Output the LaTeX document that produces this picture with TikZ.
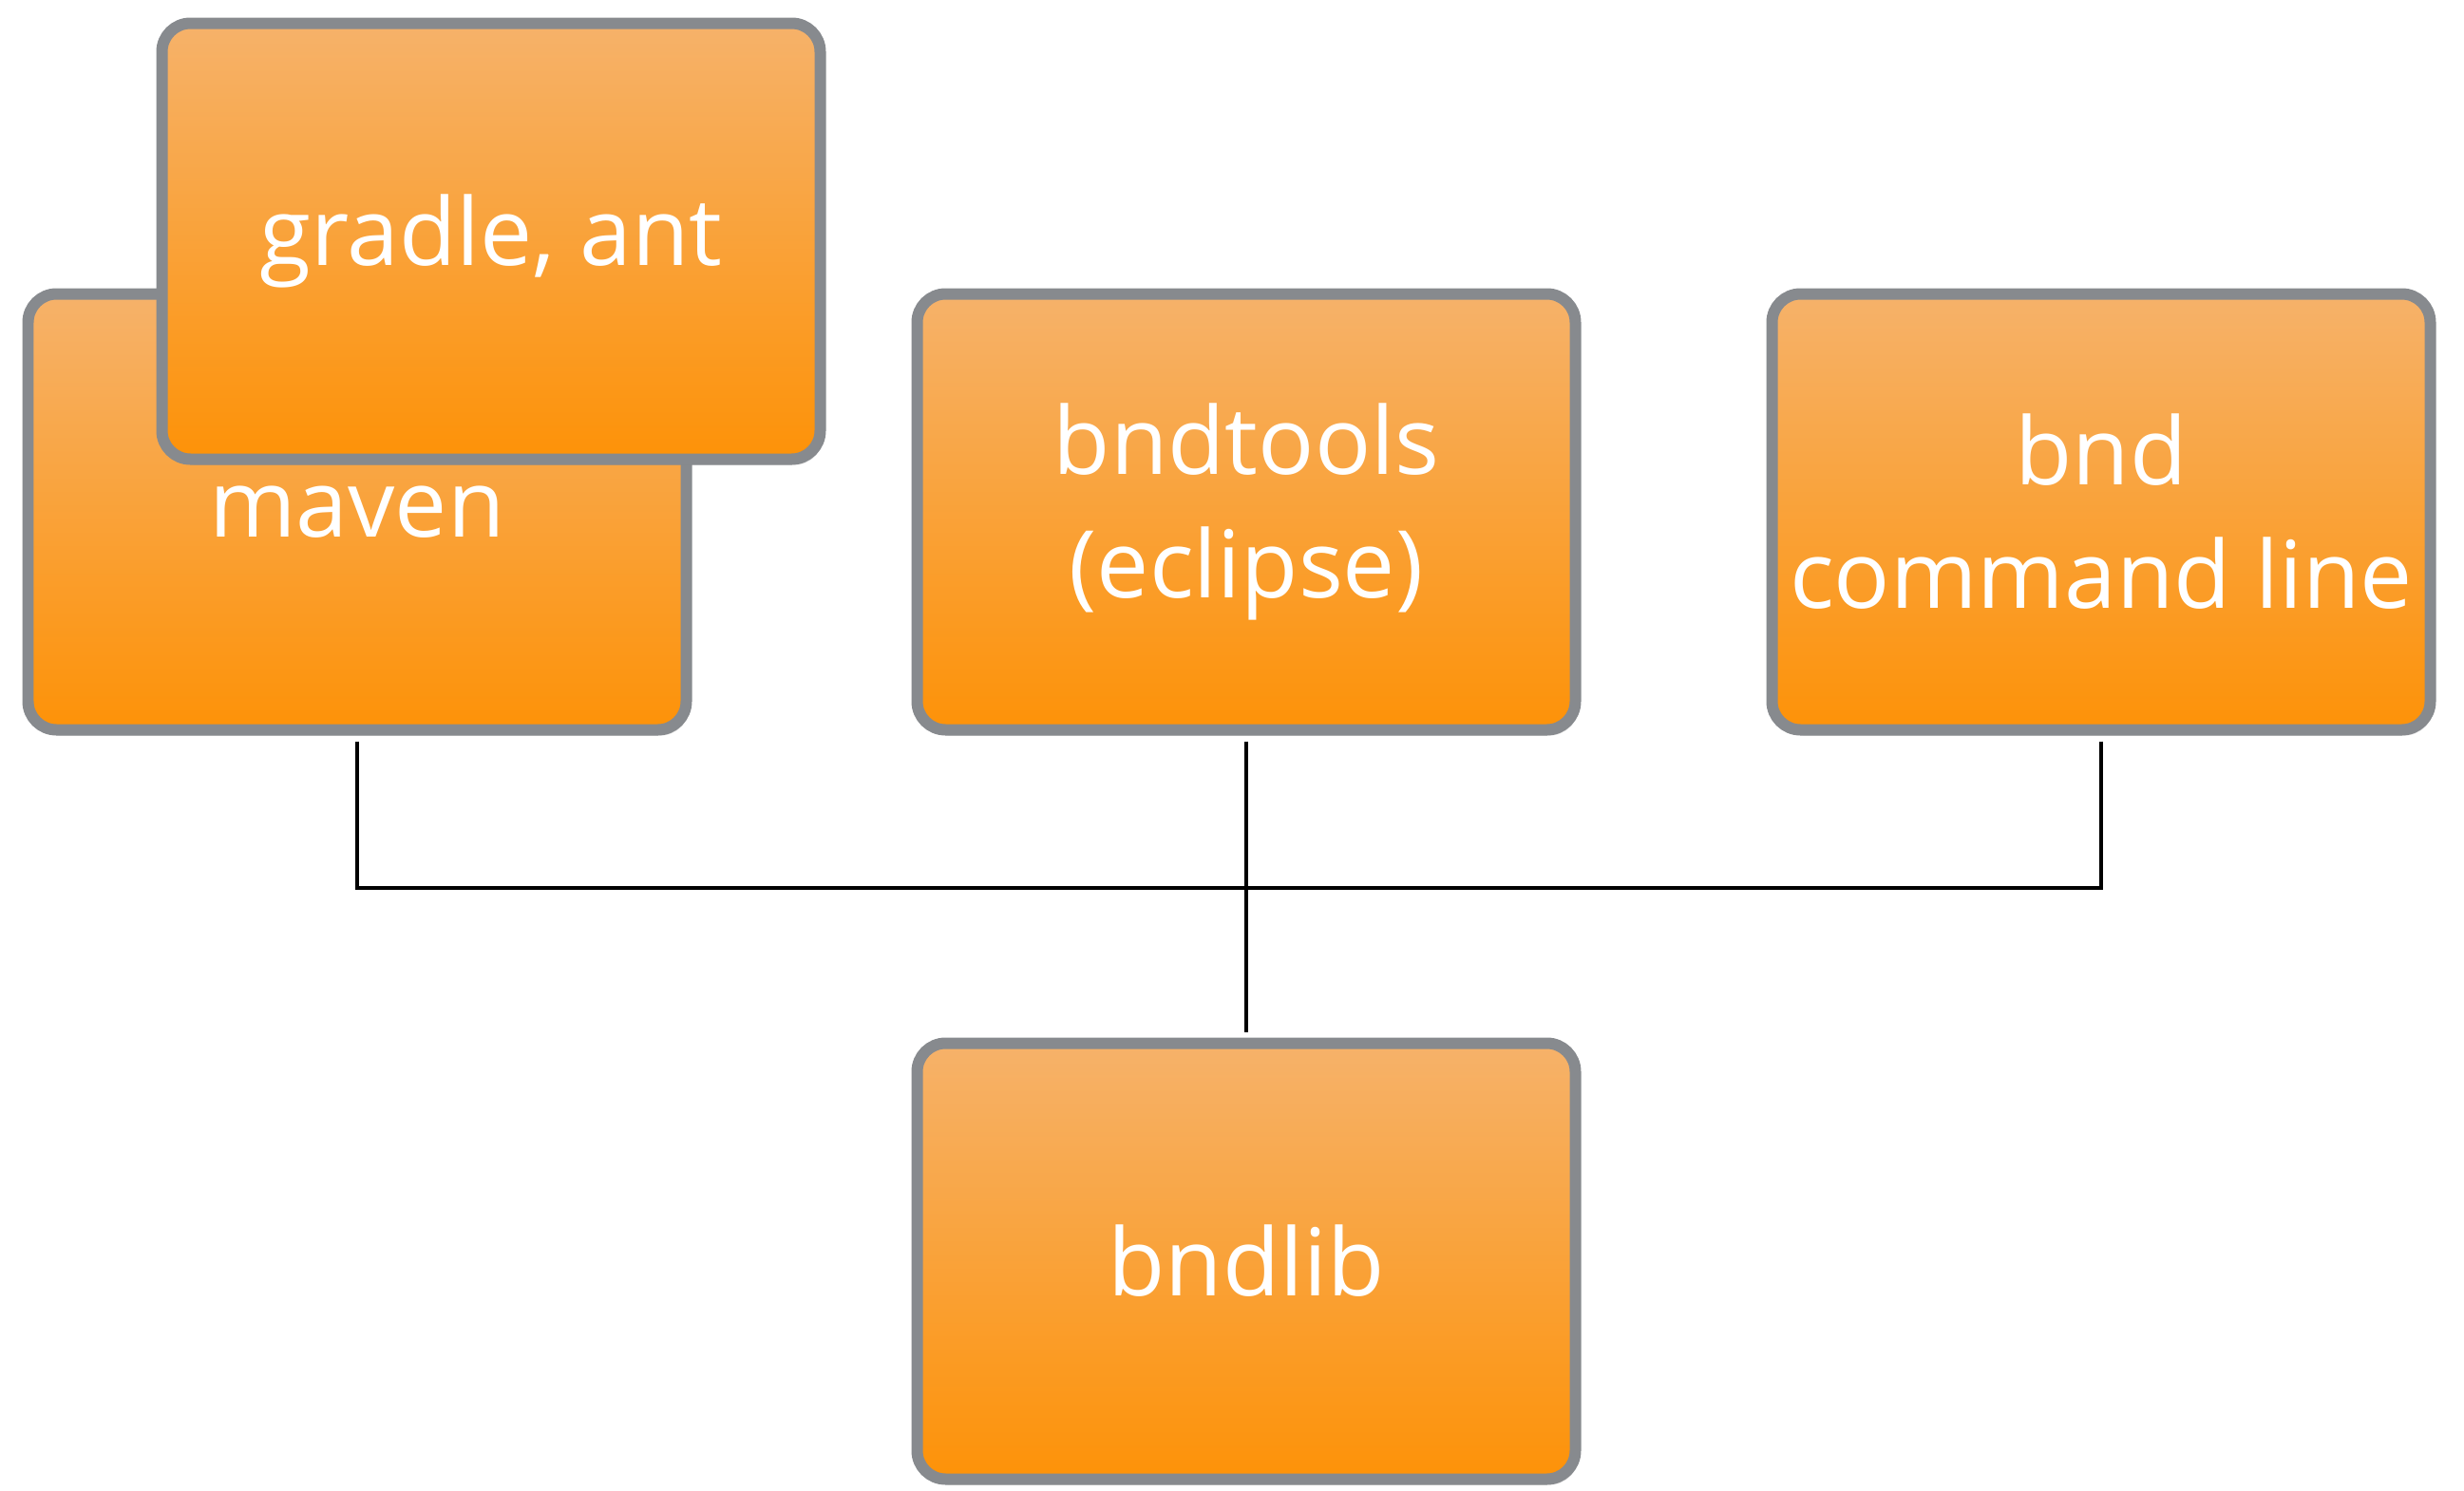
\documentclass[tikz,border=0pt]{standalone}
\usepackage{fontspec}
\setmainfont{Open Sans}
\usepackage{tikz}
\usetikzlibrary{shadows}
\definecolor{boxtop}{RGB}{246,178,106}
\definecolor{boxbottom}{RGB}{253,146,8}
\definecolor{boxrim}{RGB}{135,138,142}

\tikzset{
    toolbox/.style={rectangle, rounded corners=0.3cm, draw=boxrim, line width=0.12cm,
        top color=boxtop, bottom color=boxbottom,
        minimum width=6.93cm, minimum height=4.59cm, align=center, inner xsep=0.1cm,
        text=white, font=\fontsize{28}{37}\selectfont,
        drop shadow={shadow xshift=0.03cm, shadow yshift=-0.06cm, opacity=0.25}},
    link/.style={line width=1pt, black}
}

\begin{document}
\begin{tikzpicture}
    \useasboundingbox (0,0) rectangle (25.94,-15.70);

    % Build tools
    \node[toolbox] (maven) at (3.76,-5.39) {maven};
    \node[toolbox] (gradle) at (5.17,-2.54) {gradle, ant};

    % IDE and command line
    \node[toolbox] (bndtools) at (13.12,-5.39) {bndtools\\(eclipse)};
    \node[toolbox] (bnd) at (22.12,-5.39) {bnd\\command line};

    % Library
    \node[toolbox] (bndlib) at (13.12,-13.28) {bndlib};

    % Connections
    \coordinate (bus) at (13.12,-9.35);
    \draw[link, shorten <=0.06cm] (maven.south) |- (bus);
    \draw[link, shorten <=0.06cm] (bnd.south) |- (bus);
    \draw[link, shorten <=0.06cm, shorten >=0.06cm] (bndtools.south) -- (bndlib.north);
\end{tikzpicture}
\end{document}
